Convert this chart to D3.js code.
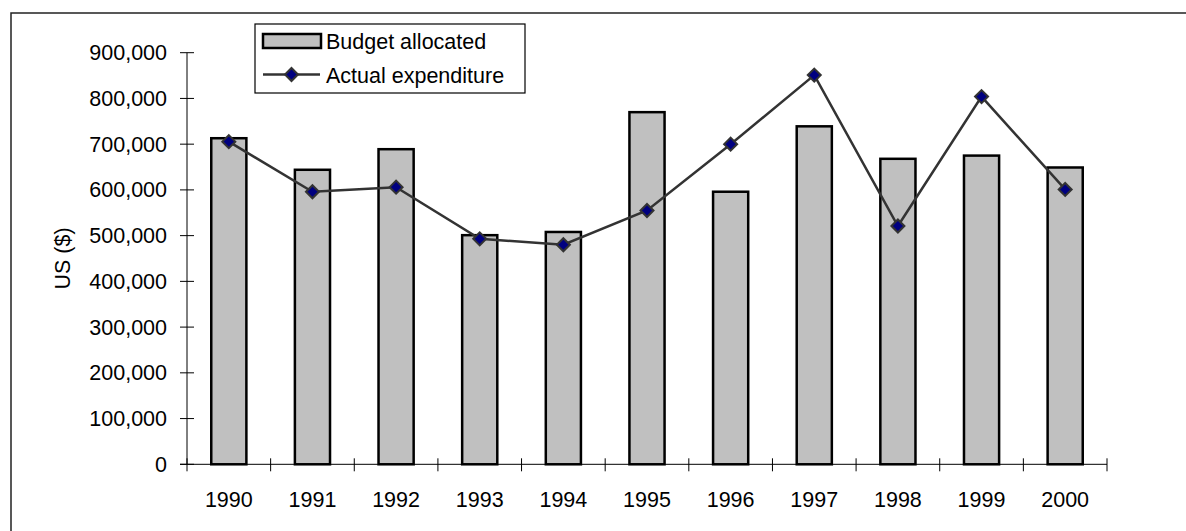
<!DOCTYPE html>
<html>
<head>
<meta charset="utf-8">
<script src="https://cdn.jsdelivr.net/npm/d3@7"></script>
<style>
  html, body { margin: 0; padding: 0; background: #fff; }
  svg { display: block; font-family: "Liberation Sans", Arial, sans-serif; }
</style>
</head>
<body>
<svg id="chart" width="1186" height="531"></svg>
<script>
// Annual budget vs. actual spending, 1990–2000 (US $)
const years = ["1990", "1991", "1992", "1993", "1994", "1995", "1996", "1997", "1998", "1999", "2000"];
const budgetAllocated = [713000, 644000, 689000, 501000, 508000, 770000, 596000, 739000, 668000, 675000, 649000];
const actualExpenditure = [705500, 596000, 606000, 493000, 480000, 555000, 700000, 851000, 521000, 804000, 601000];
const yTicks = [0, 100000, 200000, 300000, 400000, 500000, 600000, 700000, 800000, 900000];
const seriesNames = ["Budget allocated", "Actual expenditure"];

const svg = d3.select("#chart");
const plot = { left: 187, right: 1107, top: 52.7, bottom: 464.3 };
const fontSize = 21.5;

// outer frame (extends past the right and bottom edges)
svg.append("rect")
  .attr("x", 11).attr("y", 13)
  .attr("width", 1200).attr("height", 560)
  .attr("fill", "none").attr("stroke", "#222").attr("stroke-width", 1.5);

const x = d3.scaleBand()
  .domain(years)
  .range([plot.left, plot.right])
  .paddingInner(0.58)
  .paddingOuter(0.29);

const y = d3.scaleLinear()
  .domain([0, 900000])
  .range([plot.bottom, plot.top]);

// bars
svg.append("g").selectAll("rect")
  .data(years.map((yr, i) => ({ yr, v: budgetAllocated[i] })))
  .join("rect")
  .attr("x", d => x(d.yr))
  .attr("y", d => y(d.v))
  .attr("width", x.bandwidth())
  .attr("height", d => y(0) - y(d.v))
  .attr("fill", "#c0c0c0")
  .attr("stroke", "#000")
  .attr("stroke-width", 2.5);

// y axis with crossing ticks
const fmt = d3.format(",");
const yAxis = svg.append("g").attr("transform", `translate(${plot.left},0)`);
yAxis.append("line")
  .attr("x1", 0).attr("x2", 0)
  .attr("y1", y(900000)).attr("y2", y(0))
  .attr("stroke", "#000").attr("stroke-width", 1);
const yt = yAxis.selectAll("g.tick").data(yTicks).join("g")
  .attr("class", "tick")
  .attr("transform", d => `translate(0,${y(d)})`);
yt.append("line").attr("x1", -7).attr("x2", 7).attr("stroke", "#000");
yt.append("text")
  .attr("x", -20).attr("dy", "0.35em")
  .attr("text-anchor", "end")
  .attr("font-size", fontSize)
  .attr("fill", "#000")
  .text(d => fmt(d));

// x axis: line and ticks on category boundaries
const xAxis = svg.append("g").attr("transform", `translate(0,${plot.bottom})`);
xAxis.append("line")
  .attr("x1", plot.left - 7).attr("x2", plot.right)
  .attr("stroke", "#000").attr("stroke-width", 1);
const step = x.step();
xAxis.selectAll("line.b").data(d3.range(years.length + 1)).join("line")
  .attr("class", "b")
  .attr("x1", i => plot.left + i * step).attr("x2", i => plot.left + i * step)
  .attr("y1", -6).attr("y2", 7)
  .attr("stroke", "#000");
xAxis.selectAll("text").data(years).join("text")
  .attr("x", d => x(d) + x.bandwidth() / 2)
  .attr("y", 43)
  .attr("text-anchor", "middle")
  .attr("font-size", fontSize)
  .attr("fill", "#000")
  .text(d => d);

// y axis title
svg.append("text")
  .attr("transform", `translate(70,${(plot.top + plot.bottom) / 2}) rotate(-90)`)
  .attr("text-anchor", "middle")
  .attr("font-size", fontSize)
  .attr("fill", "#000")
  .text("US ($)");

// expenditure line with diamond markers
const cx = i => x(years[i]) + x.bandwidth() / 2;
const line = d3.line().x((d, i) => cx(i)).y(d => y(d));
svg.append("path")
  .datum(actualExpenditure)
  .attr("d", line)
  .attr("fill", "none")
  .attr("stroke", "#333")
  .attr("stroke-width", 2.5);

const diamond = "M0,-6.5L6.5,0L0,6.5L-6.5,0Z";
svg.append("g").selectAll("path")
  .data(actualExpenditure)
  .join("path")
  .attr("d", diamond)
  .attr("transform", (d, i) => `translate(${cx(i)},${y(d)})`)
  .attr("fill", "#000080")
  .attr("stroke", "#333")
  .attr("stroke-width", 2);

// legend
const lg = svg.append("g");
lg.append("rect")
  .attr("x", 255).attr("y", 24).attr("width", 270).attr("height", 69)
  .attr("fill", "#fff").attr("stroke", "#000").attr("stroke-width", 1.2);
lg.append("rect")
  .attr("x", 263).attr("y", 34).attr("width", 58).attr("height", 14)
  .attr("fill", "#c0c0c0").attr("stroke", "#000").attr("stroke-width", 2.5);
lg.append("line")
  .attr("x1", 263).attr("x2", 320).attr("y1", 74.5).attr("y2", 74.5)
  .attr("stroke", "#333").attr("stroke-width", 2.5);
lg.append("path")
  .attr("d", diamond)
  .attr("transform", "translate(291.5,74.5)")
  .attr("fill", "#000080").attr("stroke", "#333").attr("stroke-width", 2);
lg.selectAll("text.lab").data(seriesNames).join("text")
  .attr("class", "lab")
  .attr("x", 326)
  .attr("y", (d, i) => 49 + i * 34)
  .attr("font-size", fontSize)
  .attr("fill", "#000")
  .text(d => d);
</script>
</body>
</html>
